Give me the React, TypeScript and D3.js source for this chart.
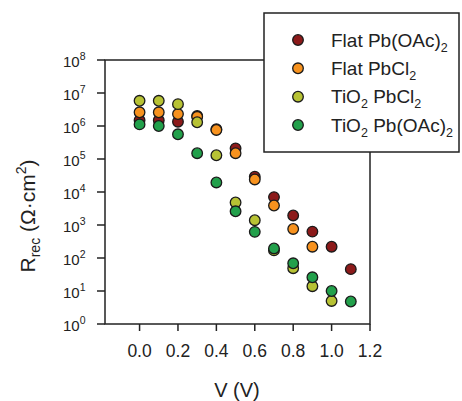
import React from "react";
import * as d3 from "d3";

const voltages = [0.0, 0.1, 0.2, 0.3, 0.4, 0.5, 0.6, 0.7, 0.8, 0.9, 1.0, 1.1];

const flatPbOAc = [1.5e6, 1.5e6, 1.35e6, 2.0e6, 8.0e5, 2.1e5, 2.9e4, 7.0e3, 1.95e3, 630, 220, 46];
const flatPbCl2 = [2.6e6, 2.6e6, 2.3e6, 1.9e6, 7.6e5, 1.5e5, 2.4e4, 3.9e3, 760, 220];
const tio2PbCl2 = [5.8e6, 5.8e6, 4.6e6, 1.3e6, 1.3e5, 4.8e3, 1.4e3, 170, 49, 14, 5];
const tio2PbOAc = [1.12e6, 1.0e6, 5.6e5, 1.5e5, 1.95e4, 2.6e3, 620, 195, 69, 26, 10, 4.8];

const xTicks = [0.0, 0.2, 0.4, 0.6, 0.8, 1.0, 1.2];
const yExponents = [0, 1, 2, 3, 4, 5, 6, 7, 8];

const series = [
  { name: "Flat Pb(OAc)", pre: "", values: flatPbOAc, color: "#8c1a1a" },
  { name: "Flat PbCl", pre: "", values: flatPbCl2, color: "#f7921e" },
  { name: " PbCl", pre: "TiO", values: tio2PbCl2, color: "#b7c234" },
  { name: " Pb(OAc)", pre: "TiO", values: tio2PbOAc, color: "#22a04b" },
];

const font = "Liberation Sans, Arial, sans-serif";

export default function App() {
  const left = 105, right = 370, top = 60, bottom = 324;
  const x = d3.scaleLinear().domain([-0.18, 1.2]).range([left, right]);
  const y = d3.scaleLog().domain([1, 1e8]).range([bottom, top]);

  const legendY = [40, 68.3, 96.7, 125];

  return (
    <svg
      width={462}
      height={401}
      style={{ position: "absolute", left: 0, top: 0, background: "#fff" }}
      fontFamily={font}
    >
      {/* frame */}
      <rect x={left} y={top} width={right - left} height={bottom - top} fill="none" stroke="#222" strokeWidth={1.5} />

      {/* y ticks */}
      {yExponents.map((e) => (
        <g key={e}>
          <line x1={left - 8} x2={left} y1={y(Math.pow(10, e))} y2={y(Math.pow(10, e))} stroke="#222" strokeWidth={1.5} />
          <text x={63} y={y(Math.pow(10, e)) + 6.5} fontSize={15} fill="#222">
            10<tspan dy={-6.5} fontSize={10.5}>{e}</tspan>
          </text>
        </g>
      ))}

      {/* x ticks */}
      {xTicks.map((t) => (
        <g key={t}>
          <line x1={x(t)} x2={x(t)} y1={bottom} y2={bottom + 7} stroke="#222" strokeWidth={1.5} />
          <text x={x(t)} y={357} textAnchor="middle" fontSize={17.5} fill="#222">
            {t.toFixed(1)}
          </text>
        </g>
      ))}

      <text x={237} y={397} textAnchor="middle" fontSize={20} fill="#222">V (V)</text>
      <text transform="translate(35,216) rotate(-90)" textAnchor="middle" fontSize={21} fill="#222">
        R<tspan dy={5} fontSize={14}>rec</tspan>
        <tspan dy={-5}> (Ω·cm</tspan>
        <tspan dy={-9} fontSize={14}>2</tspan>
        <tspan dy={9}>)</tspan>
      </text>

      {/* points */}
      {series.map((s) => (
        <g key={s.color}>
          {s.values.map((v, i) => (
            <circle key={i} cx={x(voltages[i])} cy={y(v)} r={5.3} fill={s.color} stroke="#1a1a1a" strokeWidth={1.3} />
          ))}
        </g>
      ))}

      {/* legend */}
      <rect x={264} y={13} width={195} height={139} fill="#fff" stroke="#222" strokeWidth={1.5} />
      {series.map((s, i) => (
        <g key={s.color}>
          <circle cx={298} cy={legendY[i]} r={5.3} fill={s.color} stroke="#1a1a1a" strokeWidth={1.3} />
          <text x={331} y={legendY[i] + 6.5} fontSize={19} fill="#222">
            {s.pre}
            {s.pre && <tspan dy={5} fontSize={12.5}>2</tspan>}
            <tspan dy={s.pre ? -5 : 0}>{s.name}</tspan>
            <tspan dy={5} fontSize={12.5}>2</tspan>
          </text>
        </g>
      ))}
    </svg>
  );
}
